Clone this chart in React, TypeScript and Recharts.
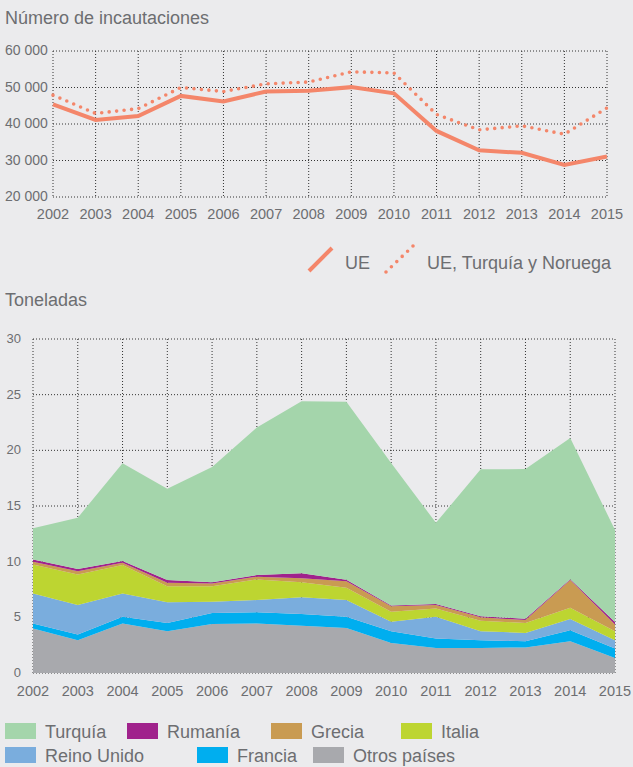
import { Area, AreaChart, CartesianGrid, Line, LineChart, XAxis, YAxis } from 'recharts';

const years = ['2002', '2003', '2004', '2005', '2006', '2007', '2008', '2009', '2010', '2011', '2012', '2013', '2014', '2015'];

// Número de incautaciones
const ue = [45400, 41100, 42200, 47700, 46200, 48900, 49100, 50100, 48400, 38100, 32800, 32100, 28800, 31100];
const ueTurNor = [47900, 42900, 44200, 50000, 48900, 51000, 51500, 54300, 54000, 42600, 38400, 39500, 37200, 44400];
const countTicks = [20000, 30000, 40000, 50000, 60000];

// Toneladas (stacked, bottom first)
const otros = [4.0, 2.95, 4.45, 3.75, 4.4, 4.45, 4.25, 4.05, 2.7, 2.25, 2.25, 2.3, 2.85, 1.35];
const francia = [0.45, 0.5, 0.6, 0.75, 1.0, 1.0, 1.05, 1.0, 1.05, 0.85, 0.7, 0.55, 1.0, 0.85];
const reinoUnido = [2.7, 2.65, 2.1, 1.85, 1.0, 1.1, 1.5, 1.5, 0.85, 1.95, 0.8, 0.75, 1.0, 0.75];
const italia = [2.6, 2.75, 2.55, 1.45, 1.4, 1.85, 1.35, 1.1, 0.9, 0.75, 0.95, 0.9, 1.0, 0.8];
const grecia = [0.25, 0.3, 0.2, 0.3, 0.25, 0.25, 0.35, 0.6, 0.5, 0.3, 0.3, 0.25, 2.5, 0.6];
const rumania = [0.2, 0.2, 0.15, 0.25, 0.1, 0.15, 0.45, 0.12, 0.06, 0.09, 0.09, 0.12, 0.06, 0.24];
const turquia = [2.8, 4.6, 8.8, 8.2, 10.35, 13.25, 15.45, 16.0, 12.8, 7.3, 13.2, 13.45, 12.7, 8.25];
const tonTicks = [0, 5, 10, 15, 20, 25, 30];

const stackSeries = [
  { key: 'otros', name: 'Otros países', color: '#a8a9ad', values: otros },
  { key: 'francia', name: 'Francia', color: '#00aeef', values: francia },
  { key: 'reinoUnido', name: 'Reino Unido', color: '#7aaddd', values: reinoUnido },
  { key: 'italia', name: 'Italia', color: '#bdd531', values: italia },
  { key: 'grecia', name: 'Grecia', color: '#c99b52', values: grecia },
  { key: 'rumania', name: 'Rumanía', color: '#a0228c', values: rumania },
  { key: 'turquia', name: 'Turquía', color: '#a4d5ab', values: turquia },
];

const lineData = years.map((y, i) => ({ year: y, ue: ue[i], ueTurNor: ueTurNor[i] }));
const areaData = years.map((y, i) => {
  const row: { [k: string]: string | number } = { year: y };
  stackSeries.forEach((s) => { row[s.key] = s.values[i]; });
  return row;
});

const BG = '#ebebed';
const TEXT = '#6d6e71';
const ORANGE = '#f4866a';
const FONT = '"Liberation Sans", Arial, sans-serif';

const fmt = (v: number) => String(v).replace(/\B(?=(\d{3})+(?!\d))/g, ' ');

function TopYTick({ y, payload }: any) {
  return (
    <text x={5} y={y} dy={4} textAnchor="start" fill={TEXT} fontSize={14} fontFamily={FONT}>
      {fmt(payload.value)}
    </text>
  );
}

function BottomYTick({ y, payload }: any) {
  return (
    <text x={21} y={y} dy={4} textAnchor="end" fill={TEXT} fontSize={13} fontFamily={FONT}>
      {payload.value}
    </text>
  );
}

function XTick({ x, y, payload, dy }: any) {
  return (
    <text x={x} y={y} dy={dy} textAnchor="middle" fill={TEXT} fontSize={14.5} fontFamily={FONT}>
      {payload.value}
    </text>
  );
}

const legendRows = [
  [
    { key: 'turquia', x: 5 },
    { key: 'rumania', x: 127 },
    { key: 'grecia', x: 271 },
    { key: 'italia', x: 401 },
  ],
  [
    { key: 'reinoUnido', x: 5 },
    { key: 'francia', x: 197 },
    { key: 'otros', x: 313 },
  ],
];

export default function App() {
  return (
    <div style={{ position: 'fixed', left: 0, top: 0, width: 633, height: 767, background: BG, overflow: 'hidden' }}>
      <svg style={{ position: 'absolute', left: 0, top: 0 }} width={633} height={40}>
        <text x={5} y={24} fill={TEXT} fontSize={18} fontFamily={FONT}>Número de incautaciones</text>
      </svg>
      <div style={{ position: 'absolute', left: 0, top: 0 }}>
        <LineChart width={633} height={225} data={lineData} margin={{ top: 51, right: 26, bottom: 0, left: 0 }}>
          <CartesianGrid stroke="#333" strokeDasharray="1 2" />
          <XAxis dataKey="year" axisLine={false} tickLine={false} height={28} tick={<XTick dy={14} />} interval={0} />
          <YAxis width={53} domain={[20000, 60000]} ticks={countTicks} axisLine={false} tickLine={false} tick={<TopYTick />} />
          <Line dataKey="ue" stroke={ORANGE} strokeWidth={4} dot={false} isAnimationActive={false} type="linear" />
          <Line dataKey="ueTurNor" stroke={ORANGE} strokeWidth={3.6} strokeDasharray="0 7.5" strokeLinecap="round" dot={false} isAnimationActive={false} type="linear" />
        </LineChart>
      </div>
      <svg style={{ position: 'absolute', left: 0, top: 230 }} width={633} height={80}>
        <line x1={309} y1={41} x2={332} y2={18} stroke={ORANGE} strokeWidth={4} />
        <text x={345} y={39} fill={TEXT} fontSize={18} fontFamily={FONT}>UE</text>
        <line x1={386} y1={42} x2={414} y2={15} stroke={ORANGE} strokeWidth={3.6} strokeDasharray="0 7.5" strokeLinecap="round" />
        <text x={427} y={39} fill={TEXT} fontSize={18} fontFamily={FONT}>UE, Turquía y Noruega</text>
        <text x={5} y={75.7} fill={TEXT} fontSize={18} fontFamily={FONT}>Toneladas</text>
      </svg>
      <div style={{ position: 'absolute', left: 0, top: 300 }}>
        <AreaChart width={633} height={400} data={areaData} margin={{ top: 39, right: 18, bottom: 0, left: 0 }}>
          <CartesianGrid stroke="#333" strokeDasharray="1 2" />
          <XAxis dataKey="year" axisLine={false} tickLine={false} height={27} tick={<XTick dy={15} />} interval={0} />
          <YAxis width={33} domain={[0, 30]} ticks={tonTicks} axisLine={false} tickLine={false} tick={<BottomYTick />} />
          {stackSeries.map((s) => (
            <Area
              key={s.key}
              dataKey={s.key}
              name={s.name}
              stackId="1"
              type="linear"
              fill={s.color}
              fillOpacity={1}
              stroke="none"
              isAnimationActive={false}
            />
          ))}
        </AreaChart>
      </div>
      <svg style={{ position: 'absolute', left: 0, top: 715 }} width={633} height={52}>
        {legendRows.map((row, r) =>
          row.map((item) => {
            const s = stackSeries.find((d) => d.key === item.key)!;
            const top = r === 0 ? 8 : 32;
            return (
              <g key={item.key}>
                <rect x={item.x} y={top} width={31} height={16} fill={s.color} />
                <text x={item.x + 40} y={top + 14.5} fill={TEXT} fontSize={18} fontFamily={FONT}>{s.name}</text>
              </g>
            );
          })
        )}
      </svg>
    </div>
  );
}
